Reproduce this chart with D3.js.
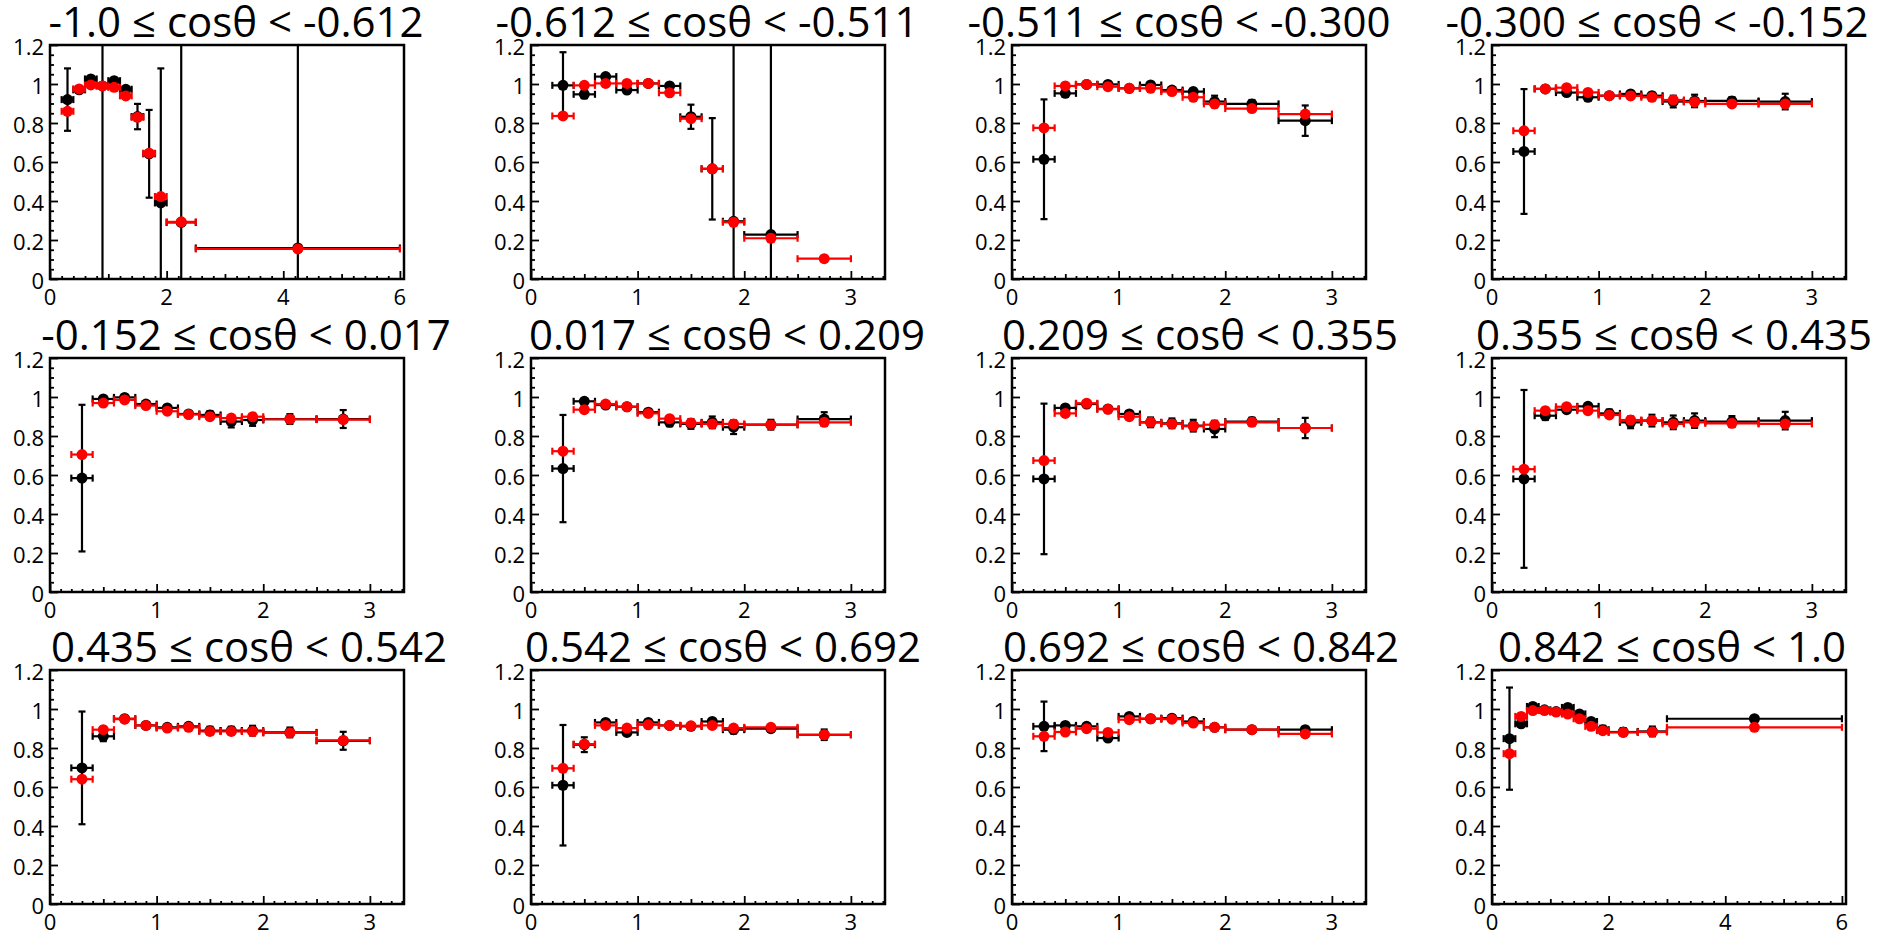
<!DOCTYPE html>
<html>
<head>
<meta charset="utf-8">
<script src="https://cdn.jsdelivr.net/npm/d3@7"></script>
<style>
body { margin: 0; background: #fff; }
text { font-family: "Open Sans", sans-serif; fill: #000; }
</style>
</head>
<body>
<script>
var titles = [
    "-1.0 \u2264 cos\u03b8 < -0.612", "-0.612 \u2264 cos\u03b8 < -0.511", "-0.511 \u2264 cos\u03b8 < -0.300", "-0.300 \u2264 cos\u03b8 < -0.152",
    "-0.152 \u2264 cos\u03b8 < 0.017", "0.017 \u2264 cos\u03b8 < 0.209", "0.209 \u2264 cos\u03b8 < 0.355", "0.355 \u2264 cos\u03b8 < 0.435",
    "0.435 \u2264 cos\u03b8 < 0.542", "0.542 \u2264 cos\u03b8 < 0.692", "0.692 \u2264 cos\u03b8 < 0.842", "0.842 \u2264 cos\u03b8 < 1.0"
];

// bin edges
var edgesFirst = [0.2, 0.4, 0.6, 0.8, 1.0, 1.2, 1.4, 1.6, 1.8, 2.0, 2.5, 6.0];
var edgesStd = [0.2, 0.4, 0.6, 0.8, 1.0, 1.2, 1.4, 1.6, 1.8, 2.0, 2.5, 3.0];
var edgesLast = [0.2, 0.4, 0.6, 0.8, 1.0, 1.2, 1.4, 1.6, 1.8, 2.0, 2.5, 3.0, 6.0];
var panelEdges = [edgesFirst, edgesStd, edgesStd, edgesStd, edgesStd, edgesStd,
    edgesStd, edgesStd, edgesStd, edgesStd, edgesStd, edgesLast];

var xMax = [6.07, 3.32, 3.32, 3.32, 3.32, 3.32, 3.32, 3.32, 3.32, 3.32, 3.32, 6.07];
var xLabelsWide = [0, 2, 4, 6];
var xLabelsStd = [0, 1, 2, 3];
var yLabels = [0, 0.2, 0.4, 0.6, 0.8, 1.0, 1.2];

// black points (data)
var dataVals = [
    [0.92, 0.97, 1.026, 0.99, 1.017, 0.973, 0.833, 0.642, 0.39, 0.29, 0.159],
    [0.993, 0.947, 1.038, 0.969, 1.003, 0.99, 0.832, 0.565, 0.296, 0.228, null],
    [0.614, 0.952, 0.998, 0.998, 0.978, 0.995, 0.969, 0.961, 0.91, 0.898, 0.812],
    [0.654, 0.975, 0.956, 0.932, 0.94, 0.949, 0.94, 0.91, 0.913, 0.913, 0.91],
    [0.584, 0.99, 0.998, 0.964, 0.944, 0.913, 0.908, 0.874, 0.882, 0.887, 0.887],
    [0.633, 0.978, 0.959, 0.95, 0.922, 0.87, 0.862, 0.87, 0.845, 0.858, 0.887],
    [0.58, 0.944, 0.964, 0.939, 0.913, 0.87, 0.865, 0.853, 0.836, 0.874, 0.841],
    [0.58, 0.904, 0.935, 0.952, 0.916, 0.87, 0.879, 0.87, 0.879, 0.874, 0.879],
    [0.698, 0.86, 0.95, 0.916, 0.906, 0.911, 0.889, 0.889, 0.889, 0.88, 0.837],
    [0.609, 0.817, 0.931, 0.88, 0.931, 0.916, 0.911, 0.936, 0.894, 0.899, 0.868],
    [0.911, 0.916, 0.911, 0.851, 0.962, 0.95, 0.953, 0.936, 0.906, 0.894, 0.894],
    [0.848, 0.924, 1.013, 0.996, 0.987, 1.008, 0.975, 0.936, 0.894, 0.882, 0.885, 0.95]
];
var dataErrs = [
    [0.16, 0.015, 0.01, 1.5, 0.01, 0.01, 0.065, 0.225, 0.69, 1.5, 1.5],
    [0.17, 0.02, 0.01, 0.01, 0.01, 0.01, 0.062, 0.26, 1.5, 1.5, null],
    [0.307, 0.015, 0.01, 0.01, 0.01, 0.01, 0.012, 0.015, 0.03, 0.02, 0.078],
    [0.32, 0.01, 0.015, 0.015, 0.01, 0.015, 0.015, 0.03, 0.032, 0.02, 0.04],
    [0.376, 0.01, 0.01, 0.01, 0.015, 0.01, 0.02, 0.03, 0.03, 0.025, 0.046],
    [0.275, 0.01, 0.01, 0.01, 0.01, 0.02, 0.025, 0.03, 0.035, 0.025, 0.035],
    [0.386, 0.015, 0.01, 0.01, 0.015, 0.025, 0.025, 0.03, 0.042, 0.02, 0.052],
    [0.456, 0.022, 0.015, 0.015, 0.02, 0.03, 0.03, 0.035, 0.037, 0.028, 0.045],
    [0.289, 0.025, 0.01, 0.015, 0.015, 0.015, 0.02, 0.02, 0.025, 0.025, 0.046],
    [0.309, 0.038, 0.01, 0.012, 0.01, 0.012, 0.015, 0.012, 0.02, 0.015, 0.027],
    [0.127, 0.012, 0.01, 0.012, 0.01, 0.008, 0.01, 0.01, 0.012, 0.01, 0.015],
    [0.262, 0.015, 0.008, 0.008, 0.008, 0.01, 0.01, 0.012, 0.02, 0.02, 0.025, 0.01]
];

// red points (MC)
var mcVals = [
    [0.86, 0.975, 0.995, 0.99, 0.983, 0.939, 0.829, 0.645, 0.423, 0.293, 0.154],
    [0.836, 0.993, 1.003, 1.003, 1.003, 0.955, 0.822, 0.565, 0.291, 0.209, 0.104],
    [0.775, 0.99, 0.998, 0.986, 0.978, 0.978, 0.961, 0.932, 0.898, 0.874, 0.846],
    [0.76, 0.975, 0.981, 0.957, 0.94, 0.939, 0.932, 0.918, 0.908, 0.898, 0.898],
    [0.705, 0.969, 0.985, 0.956, 0.927, 0.91, 0.899, 0.892, 0.899, 0.886, 0.884],
    [0.722, 0.935, 0.964, 0.95, 0.916, 0.889, 0.867, 0.862, 0.862, 0.857, 0.87],
    [0.674, 0.916, 0.968, 0.937, 0.899, 0.87, 0.862, 0.85, 0.858, 0.87, 0.841],
    [0.63, 0.93, 0.95, 0.93, 0.908, 0.882, 0.879, 0.862, 0.87, 0.865, 0.862],
    [0.64, 0.894, 0.948, 0.916, 0.902, 0.906, 0.885, 0.885, 0.885, 0.877, 0.839],
    [0.696, 0.82, 0.916, 0.902, 0.919, 0.916, 0.914, 0.916, 0.902, 0.906, 0.868],
    [0.86, 0.882, 0.899, 0.88, 0.945, 0.95, 0.948, 0.928, 0.906, 0.894, 0.872],
    [0.771, 0.962, 0.992, 0.992, 0.984, 0.974, 0.95, 0.911, 0.889, 0.88, 0.882, 0.906]
];

var width = 1881, height = 933, pw = 354, ph = 234;
var colLeft = [50, 531, 1012, 1492], rowTop = [45, 358, 670];
var titleShift = [9, -1, -10, -12, 19, 19, 11, 5, 22, 15, 12, 3];

var svg = d3.select("body").append("svg")
    .attr("width", width)
    .attr("height", height);

function near(a, b) { return Math.abs(a - b) < 1e-6; }

function drawPoints(g, x, y, edges, vals, errs, color) {
    var pts = vals.map(function(v, j) {
        return { v: v, e: errs ? errs[j] : 0, lo: edges[j], hi: edges[j + 1] };
    }).filter(function(d) { return d.v != null; });

    var eb = g.append("g")
        .attr("stroke", color)
        .attr("stroke-width", 2.2);

    // horizontal bars with end caps
    eb.selectAll(".hbar").data(pts).enter().append("line")
        .attr("x1", function(d) { return x(d.lo); })
        .attr("x2", function(d) { return x(d.hi); })
        .attr("y1", function(d) { return y(d.v); })
        .attr("y2", function(d) { return y(d.v); });
    [0, 1].forEach(function(side) {
        eb.selectAll(".hcap" + side).data(pts).enter().append("line")
            .attr("x1", function(d) { return x(side ? d.hi : d.lo); })
            .attr("x2", function(d) { return x(side ? d.hi : d.lo); })
            .attr("y1", function(d) { return y(d.v) - 3.5; })
            .attr("y2", function(d) { return y(d.v) + 3.5; });
    });

    if (errs) {
        var xc = function(d) { return x((d.lo + d.hi) / 2); };
        eb.selectAll(".vbar").data(pts).enter().append("line")
            .attr("x1", xc).attr("x2", xc)
            .attr("y1", function(d) { return y(d.v - d.e); })
            .attr("y2", function(d) { return y(d.v + d.e); });
        [-1, 1].forEach(function(s) {
            eb.selectAll(".vcap" + s).data(pts).enter().append("line")
                .attr("x1", function(d) { return xc(d) - 3.5; })
                .attr("x2", function(d) { return xc(d) + 3.5; })
                .attr("y1", function(d) { return y(d.v + s * d.e); })
                .attr("y2", function(d) { return y(d.v + s * d.e); });
        });
    }

    g.append("g").selectAll("circle").data(pts).enter().append("circle")
        .attr("cx", function(d) { return x((d.lo + d.hi) / 2); })
        .attr("cy", function(d) { return y(d.v); })
        .attr("r", 5.5)
        .attr("fill", color);
}

titles.forEach(function(title, i) {
    var left = colLeft[i % 4], top = rowTop[Math.floor(i / 4)];
    var wide = xMax[i] > 4;
    var g = svg.append("g").attr("transform", "translate(" + left + "," + top + ")");

    var x = d3.scaleLinear().domain([0, xMax[i]]).range([0, pw]);
    var y = d3.scaleLinear().domain([0, 1.2]).range([ph, 0]);

    g.append("clipPath").attr("id", "clip" + i)
        .append("rect").attr("width", pw).attr("height", ph);

    // x axis ticks (inside) + labels
    var xTickVals = wide ? d3.range(0, 31).map(function(k) { return k / 5; })
                         : d3.range(0, 34).map(function(k) { return k / 10; });
    var xLen = function(d) {
        if (wide) return near(d % 2, 0) || near(d % 2, 2) ? 8 : (near(d, Math.round(d)) ? 5 : 3);
        return near(d, Math.round(d)) ? 8 : (near(d * 2, Math.round(d * 2)) ? 5 : 3);
    };
    var xAxis = g.append("g")
        .attr("transform", "translate(0," + ph + ")")
        .call(d3.axisBottom(x).tickValues(xTickVals).tickFormat("").tickSize(0));
    xAxis.select(".domain").remove();
    xAxis.selectAll(".tick line")
        .attr("stroke", "#000").attr("stroke-width", 1.8)
        .attr("y2", function(d) { return -xLen(d); });

    g.append("g").selectAll("text")
        .data(wide ? xLabelsWide : xLabelsStd)
        .enter().append("text")
        .attr("x", function(d) { return x(d); })
        .attr("y", ph + 26)
        .attr("text-anchor", "middle")
        .attr("font-size", 22)
        .text(function(d) { return d; });

    // y axis ticks + labels
    var yTickVals = d3.range(0, 25).map(function(k) { return k / 20; });
    var yAxis = g.append("g")
        .call(d3.axisLeft(y).tickValues(yTickVals).tickFormat("").tickSize(0));
    yAxis.select(".domain").remove();
    yAxis.selectAll(".tick line")
        .attr("stroke", "#000").attr("stroke-width", 1.8)
        .attr("x2", function(d) { return near(d * 5, Math.round(d * 5)) ? 8 : 4; });

    g.append("g").selectAll("text")
        .data(yLabels)
        .enter().append("text")
        .attr("x", -6)
        .attr("y", function(d) { return y(d) + 10; })
        .attr("text-anchor", "end")
        .attr("font-size", 22)
        .text(function(d) { return +d.toFixed(1); });

    var plot = g.append("g").attr("clip-path", "url(#clip" + i + ")");
    drawPoints(plot, x, y, panelEdges[i], dataVals[i], dataErrs[i], "#000");
    drawPoints(plot, x, y, panelEdges[i], mcVals[i], null, "#ff0000");

    g.append("rect")
        .attr("width", pw).attr("height", ph)
        .attr("fill", "none")
        .attr("stroke", "#000")
        .attr("stroke-width", 2.5);

    g.append("text")
        .attr("x", pw / 2 + titleShift[i])
        .attr("y", -8)
        .attr("text-anchor", "middle")
        .attr("font-size", 42)
        .text(title);
});
</script>
</body>
</html>
